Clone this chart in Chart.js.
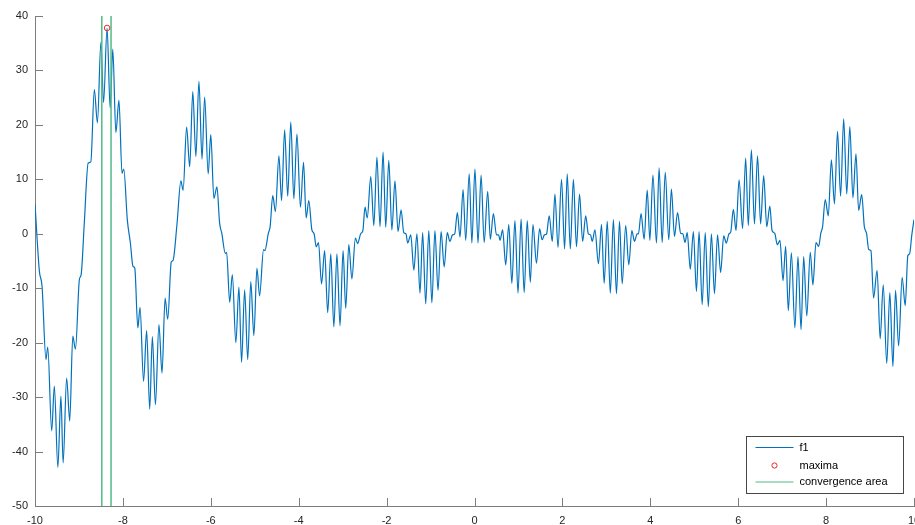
<!DOCTYPE html>
<html>
<head>
<meta charset="utf-8">
<script src="https://cdn.jsdelivr.net/npm/chart.js@4/dist/chart.umd.min.js"></script>
<style>
  html, body { margin: 0; padding: 0; background: #ffffff; overflow: hidden; }
  #wrap { width: 935px; height: 525px; }
</style>
</head>
<body>
<div id="wrap"><canvas id="c" width="935" height="525"></canvas></div>
<script>
// f1 sampled at its local turning points
const f1X = [
  -10.00, -9.90, -9.84, -9.75, -9.71, -9.62, -9.56, -9.48, -9.41, -9.36,
  -9.28, -9.21, -9.14, -9.08, -8.99, -8.95, -8.88, -8.79, -8.73, -8.65,
  -8.58, -8.50, -8.44, -8.36, -8.29, -8.23, -8.16, -8.09, -8.02, -7.98,
  -7.90, -7.83, -7.77, -7.73, -7.66, -7.61, -7.53, -7.46, -7.39, -7.33,
  -7.26, -7.18, -7.11, -7.04, -6.98, -6.90, -6.86, -6.77, -6.68, -6.63,
  -6.55, -6.48, -6.41, -6.34, -6.27, -6.20, -6.14, -6.06, -6.00, -5.93,
  -5.86, -5.80, -5.75, -5.67, -5.64, -5.57, -5.51, -5.43, -5.36, -5.30,
  -5.23, -5.16, -5.09, -5.02, -4.95, -4.89, -4.80, -4.77, -4.69, -4.65,
  -4.59, -4.53, -4.45, -4.39, -4.32, -4.25, -4.18, -4.11, -4.04, -3.96,
  -3.89, -3.83, -3.77, -3.70, -3.65, -3.60, -3.55, -3.48, -3.41, -3.34,
  -3.27, -3.20, -3.13, -3.06, -2.99, -2.93, -2.86, -2.79, -2.71, -2.66,
  -2.59, -2.54, -2.49, -2.44, -2.36, -2.29, -2.22, -2.15, -2.08, -2.02,
  -1.95, -1.88, -1.81, -1.74, -1.67, -1.61, -1.56, -1.52, -1.45, -1.38,
  -1.31, -1.24, -1.18, -1.11, -1.04, -0.97, -0.90, -0.83, -0.76, -0.69,
  -0.62, -0.56, -0.50, -0.45, -0.39, -0.33, -0.26, -0.20, -0.12, -0.06,
   0.01,  0.08,  0.15,  0.22,  0.30,  0.36,  0.43,  0.50,  0.55,  0.58,
   0.64,  0.71,  0.78,  0.85,  0.92,  0.99,  1.06,  1.13,  1.20,  1.27,
   1.33,  1.41,  1.48,  1.54,  1.59,  1.64,  1.70,  1.77,  1.83,  1.90,
   1.98,  2.05,  2.11,  2.18,  2.25,  2.32,  2.39,  2.46,  2.53,  2.59,
   2.64,  2.68,  2.74,  2.82,  2.89,  2.95,  3.02,  3.09,  3.16,  3.23,
   3.30,  3.36,  3.44,  3.51,  3.58,  3.64,  3.70,  3.73,  3.79,  3.86,
   3.93,  3.99,  4.06,  4.14,  4.20,  4.27,  4.34,  4.42,  4.48,  4.55,
   4.62,  4.69,  4.74,  4.79,  4.84,  4.91,  4.98,  5.05,  5.11,  5.18,
   5.25,  5.32,  5.39,  5.46,  5.53,  5.60,  5.67,  5.73,  5.79,  5.83,
   5.89,  5.95,  6.02,  6.10,  6.17,  6.23,  6.30,  6.37,  6.44,  6.51,
   6.58,  6.65,  6.72,  6.77,  6.83,  6.89,  6.95,  7.02,  7.08,  7.14,
   7.21,  7.29,  7.36,  7.43,  7.49,  7.56,  7.64,  7.70,  7.77,  7.83,
   7.88,  7.92,  7.98,  8.05,  8.12,  8.19,  8.26,  8.33,  8.40,  8.47,
   8.54,  8.61,  8.68,  8.74,  8.81,  8.87,  8.92,  8.97,  9.02,  9.08,
   9.16,  9.23,  9.30,  9.38,  9.45,  9.52,  9.58,  9.65,  9.73,  9.80,
   9.86,  9.90,  9.95, 10.00
];
const f1Y = [
    5.4,  -6.9,  -9.6, -23.1, -20.8, -36.2, -28.0, -42.9, -29.8, -42.1,
  -26.5, -34.4, -18.8, -21.2,  -8.4,  -7.5,   1.7,  13.0,  13.2,  26.5,
   20.4,  35.2,  24.1,  37.8,  23.1,  33.9,  18.6,  24.5,  11.1,  11.9,
    2.6,  -1.7,  -6.0,  -6.3, -17.3, -13.5, -27.1, -17.8, -32.2, -18.9,
  -31.4, -16.7, -25.6, -11.8, -15.7,  -5.2,  -4.9,   1.7,   9.7,   8.0,
   19.6,  12.3,  26.1,  14.2,  28.0,  13.7,  25.1,  11.0,  18.2,   6.5,
    8.6,   2.0,   0.1,  -3.6,  -3.4, -12.6,  -7.5, -20.0,  -9.8, -23.6,
  -10.3, -23.1,  -8.8, -18.7,  -6.3, -11.4,  -2.9,  -3.1,   0.1,   1.3,
    7.0,   4.1,  14.3,   6.1,  19.1,   6.9,  20.5,   6.4,  18.3,   4.9,
   13.1,   2.9,   6.1,   0.7,   0.0,  -2.4,  -1.6,  -9.2,  -3.1, -14.5,
   -3.7, -17.1,  -3.7, -16.9,  -3.1, -13.7,  -2.0,  -8.3,  -0.8,  -1.8,
    0.0,   0.6,   4.9,   2.9,  10.5,   1.5,  14.1,   1.3,  15.0,   1.2,
   13.5,   0.7,   9.7,   0.4,   4.4,   0.2,   0.0,  -1.7,  -0.2,  -6.7,
    0.0, -10.9,   0.2, -12.9,   0.6, -12.7,   0.6, -10.4,   0.4,  -6.1,
    0.2,  -1.4,  -0.2,   0.0,   3.9,  -0.6,   8.1,  -1.2,  11.0,  -1.7,
   11.9,  -1.7,  10.8,  -1.6,   7.8,  -1.0,   3.7,  -0.2,  -0.2,  -1.2,
    0.7,  -5.7,   1.7,  -9.1,   2.4, -10.9,   2.7, -10.8,   2.4,  -8.9,
    1.7,  -5.4,   0.9,  -1.1,  -0.2,   0.0,   3.3,  -1.4,   7.3,  -2.5,
   10.0,  -2.8,  11.0,  -2.8,  10.0,  -2.4,   7.3,  -1.4,   3.3,   0.0,
   -0.2,  -1.4,   0.7,  -5.5,   1.7,  -9.1,   2.3, -10.9,   2.6, -11.0,
    2.3,  -9.2,   1.5,  -5.7,   0.6,  -1.4,   0.0,   0.0,   3.7,  -1.0,
    8.0,  -1.2,  10.8,  -1.7,  12.1,  -1.6,  11.3,  -1.1,   8.2,  -0.5,
    3.9,   0.1,   0.0,  -1.6,   0.2,  -6.5,   0.4, -10.6,   0.4, -13.0,
    0.2, -13.4,   0.0, -11.0,  -0.2,  -7.1,  -0.4,  -1.7,   0.0,   0.3,
    4.5,   0.6,   9.9,   1.0,  13.9,   1.5,  15.4,   1.8,  14.3,   1.8,
   10.7,   1.3,   5.1,   0.6,   0.1,  -2.0,  -1.2,  -8.6,  -2.3, -14.1,
   -3.5, -17.3,  -4.2, -17.6,  -4.2, -15.1,  -3.4,  -9.4,  -1.6,  -2.3,
    0.1,   1.3,   6.3,   3.3,  13.6,   5.5,  18.8,   6.9,  21.1,   7.3,
   19.7,   6.6,  14.7,   4.3,   7.2,   1.3,   0.1,  -2.9,  -3.1, -11.8,
   -6.7, -19.3,  -9.4, -23.8, -10.8, -24.4, -10.4, -20.6,  -8.0, -13.2,
   -4.0,  -3.7,  -0.2,   2.6
];

// location of the maximum found
const maximaX = [-8.36];
const maximaY = [37.8];

// bounds of the convergence area
const convergenceX = [-8.48, -8.27];

// axis ticks
const xTickValues = [-10, -8, -6, -4, -2, 0, 2, 4, 6, 8, 10];
const yTickValues = [40, 30, 20, 10, 0, -10, -20, -30, -40, -50];

const seriesNames = ['f1', 'maxima', 'convergence area'];

const BLUE = 'rgb(0,114,189)';
const RED = 'rgb(235,40,40)';
const GREEN = 'rgb(82,186,135)';
const AXIS = 'rgb(125,125,125)';
const TEXT = 'rgb(38,38,38)';
const FONT = '"Liberation Sans", Arial, Helvetica, sans-serif';

const yMin = Math.min(...yTickValues), yMax = Math.max(...yTickValues);
const xMin = Math.min(...xTickValues), xMax = Math.max(...xTickValues);

const f1Data = f1X.map((x, i) => ({ x: x, y: f1Y[i] }));
const maximaData = maximaX.map((x, i) => ({ x: x, y: maximaY[i] }));
const convergenceData = [];
convergenceX.forEach((x, i) => {
  if (i > 0) convergenceData.push({ x: (x + convergenceX[i - 1]) / 2, y: null });
  convergenceData.push({ x: x, y: i % 2 ? yMax : yMin });
  convergenceData.push({ x: x, y: i % 2 ? yMin : yMax });
});

// inward tick marks, as on a boxed axis
const innerTicks = {
  id: 'innerTicks',
  afterDraw(chart) {
    const { ctx, chartArea: a, scales } = chart;
    const len = 8;
    ctx.save();
    ctx.strokeStyle = AXIS;
    ctx.lineWidth = 1;
    ctx.beginPath();
    xTickValues.forEach(v => {
      const px = Math.round(scales.x.getPixelForValue(v)) + 0.5;
      ctx.moveTo(px, a.bottom);
      ctx.lineTo(px, a.bottom - len);
    });
    yTickValues.forEach(v => {
      const py = Math.round(scales.y.getPixelForValue(v)) + 0.5;
      ctx.moveTo(a.left, py);
      ctx.lineTo(a.left + len, py);
    });
    ctx.stroke();
    ctx.restore();
  }
};

// boxed legend in the lower right corner of the plot
const boxLegend = {
  id: 'boxLegend',
  afterDraw(chart) {
    const { ctx, chartArea: a } = chart;
    const w = 157, h = 57;
    const x0 = Math.round(a.right - 11 - w) + 0.5;
    const y0 = Math.round(a.bottom - 13 - h) + 0.5;
    ctx.save();
    ctx.fillStyle = '#ffffff';
    ctx.fillRect(x0, y0, w, h);
    ctx.strokeStyle = 'rgb(70,70,70)';
    ctx.lineWidth = 1;
    ctx.strokeRect(x0, y0, w, h);
    const rows = [y0 + 11, y0 + 29, y0 + 45.5];
    const sx0 = x0 + 9, sx1 = x0 + 47, tx = x0 + 53;
    ctx.lineWidth = 1.2;
    ctx.strokeStyle = BLUE;
    ctx.beginPath(); ctx.moveTo(sx0, rows[0]); ctx.lineTo(sx1, rows[0]); ctx.stroke();
    ctx.strokeStyle = RED;
    ctx.lineWidth = 1;
    ctx.beginPath(); ctx.arc((sx0 + sx1) / 2, rows[1], 2.6, 0, Math.PI * 2); ctx.stroke();
    ctx.strokeStyle = GREEN;
    ctx.lineWidth = 1.2;
    ctx.beginPath(); ctx.moveTo(sx0, rows[2]); ctx.lineTo(sx1, rows[2]); ctx.stroke();
    ctx.fillStyle = '#000000';
    ctx.font = '11px ' + FONT;
    ctx.textBaseline = 'middle';
    ctx.textAlign = 'left';
    seriesNames.forEach((n, i) => ctx.fillText(n, tx, rows[i]));
    ctx.restore();
  }
};

const tickFont = { family: FONT, size: 11 };

new Chart(document.getElementById('c'), {
  type: 'line',
  data: {
    datasets: [
      {
        label: seriesNames[0],
        data: f1Data,
        borderColor: BLUE,
        borderWidth: 1.2,
        pointRadius: 0,
        cubicInterpolationMode: 'monotone',
        fill: false,
        order: 2
      },
      {
        label: seriesNames[1],
        data: maximaData,
        showLine: false,
        pointStyle: 'circle',
        pointRadius: 2.8,
        pointBorderWidth: 1,
        pointBorderColor: RED,
        pointBackgroundColor: 'rgba(0,0,0,0)',
        order: 0
      },
      {
        label: seriesNames[2],
        data: convergenceData,
        borderColor: GREEN,
        borderWidth: 1.5,
        pointRadius: 0,
        tension: 0,
        spanGaps: false,
        fill: false,
        order: 1
      }
    ]
  },
  options: {
    responsive: false,
    animation: false,
    devicePixelRatio: 1,
    layout: { padding: { left: 0, right: 21, top: 16, bottom: 0 } },
    plugins: {
      legend: { display: false },
      tooltip: { enabled: false },
      title: { display: false }
    },
    scales: {
      x: {
        type: 'linear',
        min: xMin,
        max: xMax,
        afterBuildTicks: s => { s.ticks = xTickValues.map(v => ({ value: v })); },
        afterFit: s => { s.height = 19; },
        ticks: {
          color: TEXT,
          font: tickFont,
          padding: 8,
          maxRotation: 0,
          autoSkip: false,
          callback: v => String(v)
        },
        grid: { display: true, drawOnChartArea: false, drawTicks: false },
        border: { display: true, color: AXIS, width: 1 }
      },
      y: {
        type: 'linear',
        min: yMin,
        max: yMax,
        afterBuildTicks: s => { s.ticks = yTickValues.slice().reverse().map(v => ({ value: v })); },
        afterFit: s => { s.width = 35; },
        ticks: {
          color: TEXT,
          font: tickFont,
          padding: 7,
          autoSkip: false,
          callback: v => String(v)
        },
        grid: { display: true, drawOnChartArea: false, drawTicks: false },
        border: { display: true, color: AXIS, width: 1 }
      }
    }
  },
  plugins: [innerTicks, boxLegend]
});
</script>
</body>
</html>
